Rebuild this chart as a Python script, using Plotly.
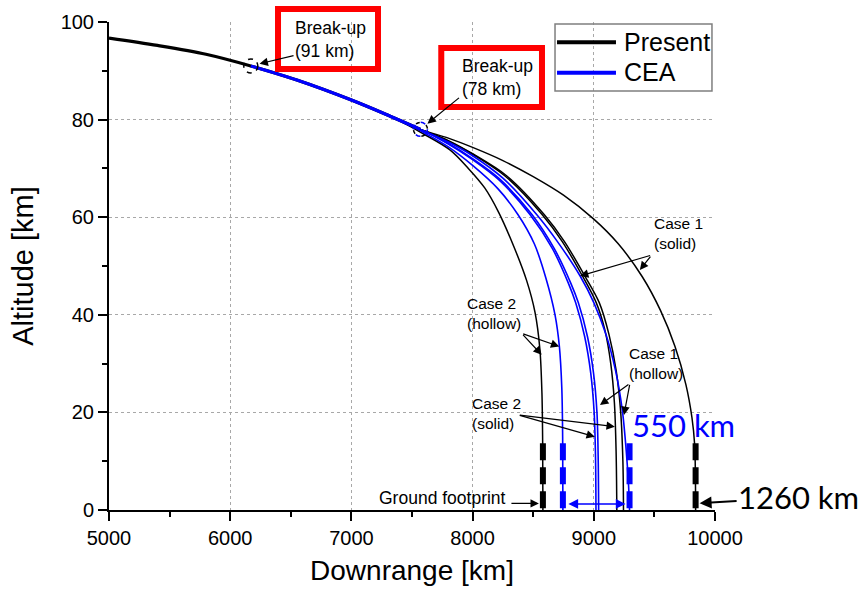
import plotly.graph_objects as go

# ---------------------------------------------------------------------------
# Trajectory data (downrange in km, altitude in km)
# ---------------------------------------------------------------------------
# common entry path before the trajectories separate
shared_downrange = [5000, 5400, 5800, 6170, 6550, 7000, 7320, 7570]
shared_altitude = [96.7, 95.2, 93.4, 91.0, 88.1, 84.0, 80.7, 78.0]

# break-up events
breakup_downrange = [6170, 7570]
breakup_altitude = [91, 78]

# Present model, after separation
present_c1_solid_x = [7570, 7800, 8000, 8250, 8500, 8750, 9000, 9200, 9400, 9550, 9670, 9760, 9810, 9832, 9840]
present_c1_solid_alt = [78.0, 76.2, 74.3, 71.6, 68.3, 64.5, 59.6, 54.6, 47.8, 40.9, 33.5, 25.7, 18.9, 13.4, 0]
present_c1_hollow_x = [7570, 7800, 8000, 8280, 8592, 8758, 8925, 9045, 9125, 9185, 9222, 9240, 9245]
present_c1_hollow_alt = [78.0, 75.7, 73.0, 68.5, 60.5, 55.0, 48.0, 42.5, 36.0, 28.5, 20.0, 10.0, 0]
present_c2_solid_x = [7570, 7800, 8000, 8265, 8575, 8740, 8905, 9020, 9090, 9140, 9170, 9184, 9190]
present_c2_solid_alt = [78.0, 75.6, 72.9, 68.5, 60.5, 55.0, 48.0, 42.5, 37.0, 30.0, 22.0, 12.0, 0]
present_c2_hollow_x = [7320, 7600, 7813, 7965, 8100, 8215, 8340, 8446, 8515, 8555, 8572, 8578, 8580]
present_c2_hollow_alt = [80.7, 77.0, 73.8, 70.0, 66.0, 61.0, 54.0, 47.0, 40.5, 33.0, 24.0, 14.0, 0]

# CEA model, after separation
cea_c1_solid_x = [7570, 7800, 8000, 8250, 8530, 8700, 8886, 9000, 9100, 9180, 9235, 9268, 9287, 9295]
cea_c1_solid_alt = [78.0, 75.4, 72.6, 68.0, 60.5, 55.0, 48.0, 42.5, 36.0, 28.5, 20.5, 12.0, 5.0, 0]
cea_c1_hollow_x = [7570, 7800, 8000, 8220, 8488, 8675, 8810, 8872, 8948, 8998, 9026, 9036, 9040]
cea_c1_hollow_alt = [78.0, 75.1, 72.0, 67.9, 60.6, 53.5, 46.5, 42.5, 35.5, 28.0, 20.0, 11.0, 0]
cea_c2_solid_x = [7570, 7800, 8000, 8220, 8475, 8660, 8790, 8850, 8925, 8975, 9003, 9014, 9018]
cea_c2_solid_alt = [78.0, 75.0, 71.8, 67.6, 60.5, 53.5, 46.5, 42.5, 35.5, 28.0, 20.0, 11.0, 0]
cea_c2_hollow_x = [7450, 7615, 7800, 8000, 8210, 8375, 8510, 8605, 8680, 8716, 8736, 8743, 8745]
cea_c2_hollow_alt = [79.3, 77.1, 74.4, 70.6, 65.8, 60.5, 54.5, 47.5, 40.0, 33.5, 25.0, 15.0, 0]

# ground footprint limits (downrange, km)
present_footprint = [8580, 9840]
cea_footprint = [8745, 9295]

# axis ticks
x_ticks = [5000, 6000, 7000, 8000, 9000, 10000]
y_ticks = [0, 20, 40, 60, 80, 100]

# ---------------------------------------------------------------------------
# Styling
# ---------------------------------------------------------------------------
FONT = "Liberation Sans, Arial, sans-serif"
BIG_FONT = "Lato, Liberation Sans, sans-serif"
BLACK = "#000000"
BLUE = "#0000ff"
RED = "#ff0000"
FOOT_MARK_TOP = 13.7      # height of the dashed footprint markers
FOOT_MARK_BELOW = -1.85   # short tick drawn just under the axis
ARROW_ALT = 1.35

fig = go.Figure()


def add_path(x, y, color, width):
    fig.add_trace(go.Scatter(
        x=x, y=y, mode="lines",
        line=dict(color=color, width=width, shape="spline", smoothing=0.9),
        hoverinfo="skip", showlegend=False))


def with_lead_in(bx, by, n=2):
    """Prepend the common-path points just before a branch starts so the
    spline leaves the common path tangentially."""
    lead = [i for i, v in enumerate(shared_downrange) if v < bx[0]][-n:]
    return ([shared_downrange[i] for i in lead] + list(bx),
            [shared_altitude[i] for i in lead] + list(by))


# trajectories after separation: Present (black) below CEA (blue)
for bx, by in [(present_c2_hollow_x, present_c2_hollow_alt),
               (present_c2_solid_x, present_c2_solid_alt),
               (present_c1_hollow_x, present_c1_hollow_alt),
               (present_c1_solid_x, present_c1_solid_alt)]:
    add_path(*with_lead_in(bx, by), BLACK, 1.5)
for bx, by in [(cea_c2_hollow_x, cea_c2_hollow_alt),
               (cea_c2_solid_x, cea_c2_solid_alt),
               (cea_c1_hollow_x, cea_c1_hollow_alt),
               (cea_c1_solid_x, cea_c1_solid_alt)]:
    add_path(*with_lead_in(bx, by), BLUE, 1.6)

# common path: Present from the start, CEA from the first break-up
add_path(shared_downrange, shared_altitude, BLACK, 3.2)
i0 = shared_downrange.index(breakup_downrange[0])
add_path(shared_downrange[i0:], shared_altitude[i0:], BLUE, 3.2)

shapes = []

# dashed break-up markers
for k, (bx, ba) in enumerate(zip(breakup_downrange, breakup_altitude)):
    circ = dict(type="circle", xref="x", yref="y",
                xsizemode="pixel", ysizemode="pixel",
                xanchor=bx, yanchor=ba, x0=-7, x1=7, y0=-7, y1=7)
    if k == 0:
        shapes.append(dict(circ, line=dict(color=BLACK, width=1.5, dash="5px,5px")))
    else:
        shapes.append(dict(circ, line=dict(color=BLUE, width=1.5, dash="5px,6px")))
        shapes.append(dict(circ, line=dict(color=BLACK, width=1.5, dash="0px,6px,4px,1px")))

# dashed ground footprint markers
for xs, col in [(present_footprint, BLACK), (cea_footprint, BLUE)]:
    for xv in xs:
        shapes.append(dict(type="line", xref="x", yref="y", x0=xv, x1=xv,
                           y0=FOOT_MARK_TOP, y1=0,
                           line=dict(color=col, width=6, dash="17px,7px")))
    fig.add_trace(go.Scatter(
        x=xs, y=[FOOT_MARK_BELOW] * len(xs), mode="markers", cliponaxis=False,
        marker=dict(symbol="line-ns", size=4, line=dict(width=6, color=col)),
        hoverinfo="skip", showlegend=False))

# red boxes around the break-up labels
for x0, x1, y0, y1 in [(0.2789, 0.4439, 0.9037, 1.0266),
                       (0.5483, 0.7145, 0.8258, 0.9467)]:
    shapes.append(dict(type="rect", xref="paper", yref="paper",
                       x0=x0, x1=x1, y0=y0, y1=y1,
                       line=dict(color=RED, width=6)))

# legend
shapes.append(dict(type="rect", xref="paper", yref="paper",
                   x0=0.736, x1=0.995, y0=0.8586, y1=0.9959,
                   line=dict(color="#7f7f7f", width=1.5)))
for yv, col in [(0.9584, BLACK), (0.8961, BLUE)]:
    shapes.append(dict(type="line", xref="paper", yref="paper",
                       x0=0.7393, x1=0.8366, y0=yv, y1=yv,
                       line=dict(color=col, width=4)))

annotations = []


def text(x, y, s, size, color=BLACK, family=FONT, xref="paper", yref="paper"):
    annotations.append(dict(x=x, y=y, xref=xref, yref=yref, text=s,
                            showarrow=False, xanchor="left", yanchor="middle",
                            align="left", font=dict(family=family, size=size, color=color)))


def arrow(tip_x, tip_y, tail_x, tail_y, color=BLACK, width=1.2, standoff=0):
    annotations.append(dict(x=tip_x, y=tip_y, ax=tail_x, ay=tail_y,
                            xref="x", yref="y", axref="x", ayref="y", text="",
                            showarrow=True, arrowhead=2, arrowsize=1.4,
                            arrowwidth=width, arrowcolor=color, standoff=standoff))


text(0.8465, 0.9595, "Present", 25)
text(0.8465, 0.8975, "CEA", 25)

text(0.3036, 0.9651, "Break-up<br>(%d km)" % breakup_altitude[0], 17.5)
text(0.5792, 0.8863, "Break-up<br>(%d km)" % breakup_altitude[1], 17.5)
arrow(breakup_downrange[0], breakup_altitude[0], 6535, 93.2, standoff=9)
arrow(breakup_downrange[1], breakup_altitude[1], 7900, 84.7, standoff=9)

text(0.8955, 0.567, "Case 1<br>(solid)", 15.5)
arrow(8886, 47.95, 9477, 52.25)
arrow(9380, 49.2, 9477, 52.25)

text(0.5875, 0.4031, "Case 2<br>(hollow)", 15.5)
arrow(8570, 31.8, 8405, 36.2)
arrow(8715, 33.5, 8405, 36.2)

text(0.8548, 0.3006, "Case 1<br>(hollow)", 15.5)
arrow(9051, 21.5, 9298, 25.96)
arrow(9249, 19.47, 9298, 25.96)

text(0.5957, 0.1982, "Case 2<br>(solid)", 15.5)
arrow(9009, 15.0, 8377, 19.47)
arrow(9174, 17.07, 8377, 19.47)

text(0.4421, 0.024, "Ground footprint", 17.5)
arrow(present_footprint[0], ARROW_ALT, 8308, ARROW_ALT, standoff=4)

# footprint widths
annotations.append(dict(
    x=present_footprint[1], y=ARROW_ALT, xref="x", yref="y",
    text="%d km" % (present_footprint[1] - present_footprint[0]),
    showarrow=True, ax=103, ay=-6, arrowhead=2, arrowsize=1.2, arrowwidth=2,
    arrowcolor=BLACK, standoff=4,
    font=dict(family=BIG_FONT, size=31, color=BLACK)))
annotations.append(dict(
    x=cea_footprint[1], y=ARROW_ALT - 0.1, ax=cea_footprint[0], ay=ARROW_ALT - 0.1,
    xref="x", yref="y", axref="x", ayref="y", text="",
    showarrow=True, arrowside="end+start", arrowhead=2, startarrowhead=2,
    arrowsize=1.3, startarrowsize=1.3, arrowwidth=1.5, arrowcolor=BLUE,
    standoff=4, startstandoff=4))
text(0.8597, 0.1742, "%d km" % (cea_footprint[1] - cea_footprint[0]), 31,
     color=BLUE, family=BIG_FONT)

axis_common = dict(
    showline=True, linecolor=BLACK, linewidth=2, mirror=False,
    ticks="outside", ticklen=9, tickwidth=1.5, tickcolor=BLACK,
    showgrid=True, gridcolor="#a8a8a8", gridwidth=1, griddash="dot",
    zeroline=False, tickfont=dict(family=FONT, size=20, color=BLACK),
    tickformat="d",
)

fig.update_layout(
    width=864, height=593,
    margin=dict(l=109, r=149, t=22, b=83),
    paper_bgcolor="white", plot_bgcolor="white",
    showlegend=False,
    shapes=shapes, annotations=annotations,
    xaxis=dict(axis_common, range=[5000, 10000], tickmode="array", tickvals=x_ticks,
               minor=dict(dtick=500, tick0=5000, ticks="outside", ticklen=5,
                          tickwidth=1.5, tickcolor=BLACK, showgrid=False),
               title=dict(text="Downrange [km]", standoff=12,
                          font=dict(family=FONT, size=28, color=BLACK))),
    yaxis=dict(axis_common, range=[0, 100], tickmode="array", tickvals=y_ticks,
               minor=dict(dtick=10, tick0=0, ticks="outside", ticklen=5,
                          tickwidth=1.5, tickcolor=BLACK, showgrid=False),
               title=dict(text="Altitude [km]", standoff=18,
                          font=dict(family=FONT, size=29, color=BLACK))),
)

fig.write_html("out.html")
